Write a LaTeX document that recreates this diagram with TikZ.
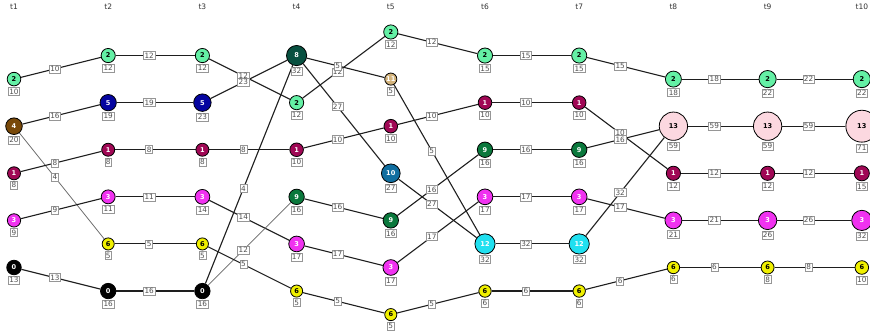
\documentclass[tikz,border=0pt]{standalone}
\usepackage{fontspec}
\setmainfont{DejaVu Sans}
\usetikzlibrary{calc}
\pgfdeclarelayer{bg}
\pgfsetlayers{bg,main}
\definecolor{cG}{RGB}{100,240,165}
\definecolor{cBl}{RGB}{5,5,160}
\definecolor{cBr}{RGB}{120,72,8}
\definecolor{cM}{RGB}{160,8,85}
\definecolor{cMg}{RGB}{240,50,240}
\definecolor{cY}{RGB}{240,240,0}
\definecolor{cK}{RGB}{0,0,0}
\definecolor{cD}{RGB}{8,80,64}
\definecolor{cT}{RGB}{212,180,124}
\definecolor{cGn}{RGB}{10,120,60}
\definecolor{cB}{RGB}{16,110,160}
\definecolor{cC}{RGB}{32,224,240}
\definecolor{cP}{RGB}{252,216,224}
\definecolor{edgecol}{RGB}{30,30,30}
\definecolor{boxcol}{RGB}{150,150,150}
\definecolor{labtxt}{RGB}{80,80,80}
\newcommand\bub[7]{%
  \pgfmathsetmacro\rr{5.3+0.15*#7}%
  \node[bub,fill=#4,text=#5,minimum size=2*\rr pt,label={[sub]below:#7}] (#1) at ({94.2*#2-80.2},{32+23.55*#3}) {#6};}
\begin{document}
\begin{tikzpicture}[x=1pt,y=-1pt,
  bub/.style={circle,draw=black,line width=0.8pt,inner sep=0pt,font=\fontsize{6.6}{6.6}\selectfont\bfseries},
  sub/.style={draw=boxcol,line width=0.55pt,fill=white,text=labtxt,inner xsep=1.1pt,inner ysep=1pt,
    font=\fontsize{7.3}{7.3}\selectfont,text height=5.5pt,text depth=0.5pt,label distance=1pt},
  elab/.style={sub},
  conn/.style={draw=edgecol,line width=1.1pt},
  thinconn/.style={draw=black!60,line width=0.75pt},
  hdr/.style={font=\fontsize{7.5}{7.5}\selectfont,text=black!80,inner sep=0pt}]
\useasboundingbox (0,0) rectangle (870,336);
% headers
\foreach \i in {1,...,10}{
  \node[hdr] (h\i) at ({94.2*\i-80.2},7) {t\i};
}
% t1
\bub{n1-2}{1}{2}{cG}{black}{2}{10}
\bub{n1-4}{1}{4}{cBr}{white}{4}{20}
\bub{n1-6}{1}{6}{cM}{white}{1}{8}
\bub{n1-8}{1}{8}{cMg}{white}{3}{9}
\bub{n1-10}{1}{10}{cK}{white}{0}{13}
% t2
\bub{n2-1}{2}{1}{cG}{black}{2}{12}
\bub{n2-3}{2}{3}{cBl}{white}{5}{19}
\bub{n2-5}{2}{5}{cM}{white}{1}{8}
\bub{n2-7}{2}{7}{cMg}{white}{3}{11}
\bub{n2-9}{2}{9}{cY}{black}{6}{5}
\bub{n2-11}{2}{11}{cK}{white}{0}{16}
% t3
\bub{n3-1}{3}{1}{cG}{black}{2}{12}
\bub{n3-3}{3}{3}{cBl}{white}{5}{23}
\bub{n3-5}{3}{5}{cM}{white}{1}{8}
\bub{n3-7}{3}{7}{cMg}{white}{3}{14}
\bub{n3-9}{3}{9}{cY}{black}{6}{5}
\bub{n3-11}{3}{11}{cK}{white}{0}{16}
% t4
\bub{n4-1}{4}{1}{cD}{white}{8}{32}
\bub{n4-3}{4}{3}{cG}{black}{2}{12}
\bub{n4-5}{4}{5}{cM}{white}{1}{10}
\bub{n4-7}{4}{7}{cGn}{white}{9}{16}
\bub{n4-9}{4}{9}{cMg}{white}{3}{17}
\bub{n4-11}{4}{11}{cY}{black}{6}{5}
% t5
\bub{n5-0}{5}{0}{cG}{black}{2}{12}
\bub{n5-2}{5}{2}{cT}{white}{11}{5}
\bub{n5-4}{5}{4}{cM}{white}{1}{10}
\bub{n5-6}{5}{6}{cB}{white}{10}{27}
\bub{n5-8}{5}{8}{cGn}{white}{9}{16}
\bub{n5-10}{5}{10}{cMg}{white}{3}{17}
\bub{n5-12}{5}{12}{cY}{black}{6}{5}
% t6
\bub{n6-1}{6}{1}{cG}{black}{2}{15}
\bub{n6-3}{6}{3}{cM}{white}{1}{10}
\bub{n6-5}{6}{5}{cGn}{white}{9}{16}
\bub{n6-7}{6}{7}{cMg}{white}{3}{17}
\bub{n6-9}{6}{9}{cC}{white}{12}{32}
\bub{n6-11}{6}{11}{cY}{black}{6}{6}
% t7
\bub{n7-1}{7}{1}{cG}{black}{2}{15}
\bub{n7-3}{7}{3}{cM}{white}{1}{10}
\bub{n7-5}{7}{5}{cGn}{white}{9}{16}
\bub{n7-7}{7}{7}{cMg}{white}{3}{17}
\bub{n7-9}{7}{9}{cC}{white}{12}{32}
\bub{n7-11}{7}{11}{cY}{black}{6}{6}
% t8
\bub{n8-2}{8}{2}{cG}{black}{2}{18}
\bub{n8-4}{8}{4}{cP}{black}{13}{59}
\bub{n8-6}{8}{6}{cM}{white}{1}{12}
\bub{n8-8}{8}{8}{cMg}{white}{3}{21}
\bub{n8-10}{8}{10}{cY}{black}{6}{6}
% t9
\bub{n9-2}{9}{2}{cG}{black}{2}{22}
\bub{n9-4}{9}{4}{cP}{black}{13}{59}
\bub{n9-6}{9}{6}{cM}{white}{1}{12}
\bub{n9-8}{9}{8}{cMg}{white}{3}{26}
\bub{n9-10}{9}{10}{cY}{black}{6}{8}
% t10
\bub{n10-2}{10}{2}{cG}{black}{2}{22}
\bub{n10-4}{10}{4}{cP}{black}{13}{71}
\bub{n10-6}{10}{6}{cM}{white}{1}{15}
\bub{n10-8}{10}{8}{cMg}{white}{3}{32}
\bub{n10-10}{10}{10}{cY}{black}{6}{10}
% edges
\begin{pgfonlayer}{bg}
\fill[white] (0,0) rectangle (870,336);
\foreach \a/\b/\s in {
  n1-2/n2-1/conn, n1-4/n2-3/conn, n1-4/n2-9/thinconn, n1-6/n2-5/conn, n1-8/n2-7/conn, n1-10/n2-11/conn,
  n2-1/n3-1/conn, n2-3/n3-3/conn, n2-5/n3-5/conn, n2-7/n3-7/conn, n2-9/n3-9/conn, n2-11/n3-11/conn,
  n3-1/n4-3/conn, n3-3/n4-1/conn, n3-5/n4-5/conn, n3-11/n4-1/conn, n3-7/n4-9/conn, n3-11/n4-7/thinconn, n3-9/n4-11/conn,
  n4-3/n5-0/conn, n4-1/n5-2/conn, n4-1/n5-6/conn, n4-5/n5-4/conn, n4-7/n5-8/conn, n4-9/n5-10/conn, n4-11/n5-12/conn,
  n5-0/n6-1/conn, n5-2/n6-9/conn, n5-4/n6-3/conn, n5-6/n6-9/conn, n5-8/n6-5/conn, n5-10/n6-7/conn, n5-12/n6-11/conn,
  n6-1/n7-1/conn, n6-3/n7-3/conn, n6-5/n7-5/conn, n6-7/n7-7/conn, n6-9/n7-9/conn, n6-11/n7-11/conn,
  n7-1/n8-2/conn, n7-3/n8-6/conn, n7-5/n8-4/conn, n7-9/n8-4/conn, n7-7/n8-8/conn, n7-11/n8-10/conn,
  n8-2/n9-2/conn, n8-4/n9-4/conn, n8-6/n9-6/conn, n8-8/n9-8/conn, n8-10/n9-10/conn,
  n9-2/n10-2/conn, n9-4/n10-4/conn, n9-6/n10-6/conn, n9-8/n10-8/conn, n9-10/n10-10/conn}{
  \draw[\s] (\a) -- (\b);
}
\end{pgfonlayer}
% edge labels
\foreach \a/\b/\l in {
  n1-2/n2-1/10, n1-4/n2-3/16, n1-4/n2-9/4, n1-6/n2-5/8, n1-8/n2-7/9, n1-10/n2-11/13,
  n2-1/n3-1/12, n2-3/n3-3/19, n2-5/n3-5/8, n2-7/n3-7/11, n2-9/n3-9/5, n2-11/n3-11/16,
  n3-1/n4-3/12, n3-3/n4-1/23, n3-5/n4-5/8, n3-11/n4-1/4, n3-7/n4-9/14, n3-11/n4-7/12, n3-9/n4-11/5,
  n4-3/n5-0/12, n4-1/n5-2/5, n4-1/n5-6/27, n4-5/n5-4/10, n4-7/n5-8/16, n4-9/n5-10/17, n4-11/n5-12/5,
  n5-0/n6-1/12, n5-2/n6-9/5, n5-4/n6-3/10, n5-6/n6-9/27, n5-8/n6-5/16, n5-10/n6-7/17, n5-12/n6-11/5,
  n6-1/n7-1/15, n6-3/n7-3/10, n6-5/n7-5/16, n6-7/n7-7/17, n6-9/n7-9/32, n6-11/n7-11/6,
  n7-1/n8-2/15, n7-3/n8-6/10, n7-5/n8-4/16, n7-9/n8-4/32, n7-7/n8-8/17, n7-11/n8-10/6,
  n8-2/n9-2/18, n8-4/n9-4/59, n8-6/n9-6/12, n8-8/n9-8/21, n8-10/n9-10/6,
  n9-2/n10-2/22, n9-4/n10-4/59, n9-6/n10-6/12, n9-8/n10-8/26, n9-10/n10-10/8}{
  \node[elab] (l-\a-\b) at ($(\a.center)!0.435!(\b.center)$) {\l};
}
\end{tikzpicture}
\end{document}
